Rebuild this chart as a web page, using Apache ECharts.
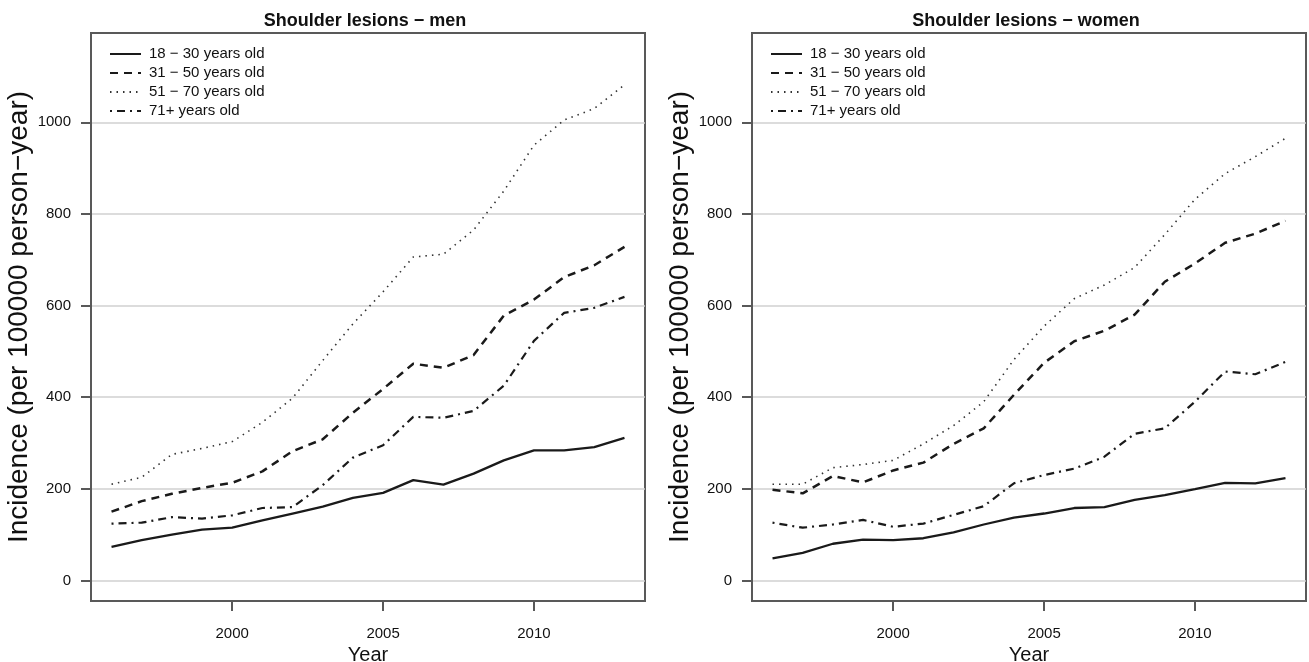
<!DOCTYPE html>
<html><head><meta charset="utf-8">
<script src="https://cdn.jsdelivr.net/npm/echarts@6/dist/echarts.min.js"></script>
<style>html,body{margin:0;padding:0;background:#fff}#c{width:1309px;height:662px}</style>
</head><body><div id="c"></div>
<script>
const years = [1996,1997,1998,1999,2000,2001,2002,2003,2004,2005,2006,2007,2008,2009,2010,2011,2012,2013];
const ageGroups = ['18 − 30 years old','31 − 50 years old','51 − 70 years old','71+ years old'];
const panelTitles = ['Shoulder lesions − men','Shoulder lesions − women'];
const xTickValues = [2000,2005,2010];
const yTickValues = [0,200,400,600,800,1000];
const xAxisTitle = 'Year';
const yAxisTitle = 'Incidence (per 100000 person−year)';

const men18to30 = [73,88,100,111,115,131,146,161,180,191,219,209,233,262,284,284,291,311];
const men31to50 = [150,173,189,202,213,238,282,308,366,418,473,464,492,578,613,662,688,728];
const men51to70 = [210,225,275,288,303,345,398,480,560,630,706,712,765,850,950,1005,1030,1082];
const men71plus = [124,126,138,135,142,158,160,208,268,295,357,355,370,425,523,584,595,619];

const women18to30 = [48,60,80,89,88,92,105,122,137,146,158,160,176,186,199,213,212,223];
const women31to50 = [198,190,228,214,240,257,298,332,405,475,522,545,580,652,692,737,757,785];
const women51to70 = [210,210,246,253,262,298,338,390,482,555,615,645,683,755,832,888,925,965];
const women71plus = [126,115,122,132,117,124,143,162,212,230,244,270,320,332,390,456,450,477];

const panels = [
  [men18to30, men31to50, men51to70, men71plus],
  [women18to30, women31to50, women51to70, women71plus]
];

const FONT = 'Liberation Sans, Arial, Helvetica, sans-serif';
const AXIS_COLOR = '#595959';
const lineStyles = [
  {type:'solid', width:2.3, color:'#1a1a1a'},
  {type:[8,6], width:2.5, color:'#1a1a1a'},
  {type:[1.5,5], width:1.6, color:'#333'},
  {type:[2,5,8,5], width:2.2, color:'#1a1a1a'}
];
const gridLefts = [91, 752];
const gridW = 554, gridTop = 33, gridH = 568;

const chart = echarts.init(document.getElementById('c'), null, {renderer:'canvas'});
const option = {
  animation:false,
  backgroundColor:'#fff',
  color:['#1a1a1a','#1a1a1a','#333','#1a1a1a'],
  title: panelTitles.map((t,i)=>({
    text:t, left: gridLefts[i] + gridW/2 - 8, top:7, textAlign:'center',
    textStyle:{fontSize:18, fontWeight:'bold', color:'#111', fontFamily:FONT}
  })),
  legend: [0,1].map(i=>({
    left: gridLefts[i] + 13, top:41, orient:'vertical',
    itemWidth:31, itemHeight:14, itemGap:3, selectedMode:false,
    data: ageGroups,
    itemStyle:{color:'rgba(0,0,0,0)', borderColor:'rgba(0,0,0,0)', borderWidth:0, opacity:0},
    textStyle:{fontSize:15, lineHeight:16, color:'#111', fontFamily:FONT, padding:[0,0,0,3]}
  })),
  grid: [0,1].map(i=>({
    left:gridLefts[i], top:gridTop, width:gridW, height:gridH,
    outerBoundsMode:'none', containLabel:false,
    show:true, borderColor:AXIS_COLOR, borderWidth:2, backgroundColor:'transparent'
  })),
  xAxis: [0,1].map(i=>({
    gridIndex:i, type:'value', min:1995.32, max:2013.68,
    axisLine:{show:true, onZero:false, lineStyle:{color:AXIS_COLOR, width:2}},
    axisTick:{show:true, customValues:xTickValues, length:10, lineStyle:{color:AXIS_COLOR, width:2}},
    axisLabel:{customValues:xTickValues, margin:25, fontSize:15, color:'#111', fontFamily:FONT, formatter:v=>String(v)},
    splitLine:{show:false},
    name:xAxisTitle, nameLocation:'middle', nameGap:43,
    nameTextStyle:{fontSize:20, color:'#111', fontFamily:FONT}
  })),
  yAxis: [0,1].map(i=>({
    gridIndex:i, type:'value', min:-45, max:1195,
    axisLine:{show:true, onZero:false, lineStyle:{color:AXIS_COLOR, width:2}},
    axisTick:{show:true, customValues:yTickValues, length:10, lineStyle:{color:AXIS_COLOR, width:2}},
    axisLabel:{customValues:yTickValues, margin:20, fontSize:15, color:'#111', fontFamily:FONT, formatter:v=>String(v)},
    splitLine:{show:true, lineStyle:{color:'#d0d0d0', width:1.5}},
    name:yAxisTitle, nameLocation:'middle', nameGap:56,
    nameTextStyle:{fontSize:28, color:'#111', fontFamily:FONT}
  })),
  series: []
};
panels.forEach((groups, i)=>{
  groups.forEach((vals, k)=>{
    option.series.push({
      type:'line', name:ageGroups[k], xAxisIndex:i, yAxisIndex:i,
      symbol:'none', silent:true, z:3,
      itemStyle:{color:lineStyles[k].color},
      lineStyle:Object.assign({}, lineStyles[k]),
      data: years.map((y,j)=>[y, vals[j]])
    });
  });
});
chart.setOption(option);
</script></body></html>
